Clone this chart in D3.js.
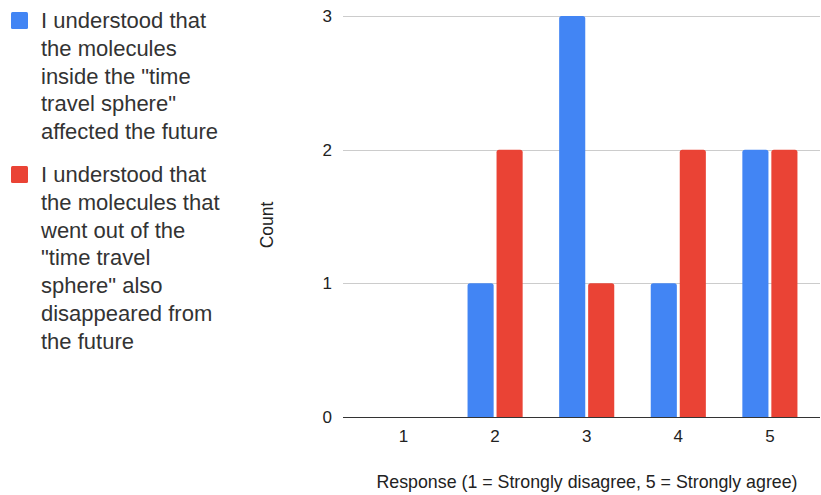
<!DOCTYPE html>
<html><head><meta charset="utf-8">
<script src="https://cdn.jsdelivr.net/npm/d3@7"></script>
<style>html,body{margin:0;padding:0;background:#fff;}svg{display:block;}</style>
</head><body>
<svg id="c" width="821" height="495"></svg>
<script>
const categories = ["1","2","3","4","5"];
const seriesNames = [
  "I understood that the molecules inside the \"time travel sphere\" affected the future",
  "I understood that the molecules that went out of the \"time travel sphere\" also disappeared from the future"
];
const legendLines = [
  ["I understood that","the molecules","inside the \"time","travel sphere\"","affected the future"],
  ["I understood that","the molecules that","went out of the","\"time travel","sphere\" also","disappeared from","the future"]
];
const series1 = [0,1,3,1,2];
const series2 = [0,2,1,2,2];
const yTicks = [0,1,2,3];
const colors = ["#4285F4","#EA4335"];
const xTitle = "Response (1 = Strongly disagree, 5 = Strongly agree)";
const yTitle = "Count";

const svg = d3.select("#c");
const font = "'Liberation Sans', Arial, sans-serif";
const plotL = 343, plotR = 820;
const y = d3.scaleLinear().domain([0,3]).range([417,16]);
const x0 = d3.scaleBand().domain(categories).range([357.7,815.7]).padding(0);
const sIdx = ["s0","s1"];
const x1 = d3.scaleBand().domain(sIdx).range([-29,29]).paddingInner(0.1).paddingOuter(0.05);

// gridlines
svg.append("g").selectAll("line").data(yTicks.filter(d=>d>0)).join("line")
  .attr("x1",plotL).attr("x2",plotR)
  .attr("y1",d=>Math.round(y(d))+0.5).attr("y2",d=>Math.round(y(d))+0.5)
  .attr("stroke","#cccccc").attr("stroke-width",1);

// y tick labels
svg.append("g").selectAll("text").data(yTicks).join("text")
  .attr("x",332).attr("y",d=>y(d)+6)
  .attr("text-anchor","end").attr("font-family",font).attr("font-size",17).attr("fill","#222")
  .text(d=>d);

// bars
const data = [series1, series2];
function barPath(x, w, y0, y1, r){
  const h = y0 - y1;
  r = Math.min(r, h/2, w/2);
  return `M${x},${y0}V${y1+r}Q${x},${y1} ${x+r},${y1}H${x+w-r}Q${x+w},${y1} ${x+w},${y1+r}V${y0}Z`;
}
data.forEach((vals,si)=>{
  svg.append("g").selectAll("path").data(vals.map((v,i)=>({v,c:categories[i]})).filter(d=>d.v>0)).join("path")
    .attr("d",d=>{
      const cx = x0(d.c)+x0.bandwidth()/2;
      return barPath(cx + x1(sIdx[si]), x1.bandwidth(), y(0), y(d.v), 2.5);
    })
    .attr("fill",colors[si]);
});

// baseline
svg.append("line").attr("x1",plotL).attr("x2",plotR).attr("y1",Math.round(y(0))+0.5).attr("y2",Math.round(y(0))+0.5)
  .attr("stroke","#333").attr("stroke-width",1);

// x tick labels
svg.append("g").selectAll("text").data(categories).join("text")
  .attr("x",d=>x0(d)+x0.bandwidth()/2).attr("y",442)
  .attr("text-anchor","middle").attr("font-family",font).attr("font-size",17).attr("fill","#222")
  .text(d=>d);

// axis titles
svg.append("text").attr("x",587).attr("y",488).attr("text-anchor","middle")
  .attr("font-family",font).attr("font-size",17.8).attr("fill","#222").text(xTitle);
svg.append("text").attr("transform","translate(273,225) rotate(-90)").attr("text-anchor","middle")
  .attr("font-family",font).attr("font-size",17.5).attr("fill","#222").text(yTitle);

// legend
const legendTop = [28, 182];
legendLines.forEach((lines,si)=>{
  const g = svg.append("g");
  g.append("rect").attr("x",11).attr("y",legendTop[si]-16).attr("width",17).attr("height",17)
    .attr("rx",1.5).attr("fill",colors[si]);
  g.append("title").text(seriesNames[si]);
  g.selectAll("text").data(lines).join("text")
    .attr("x",41).attr("y",(d,i)=>legendTop[si]+i*27.8)
    .attr("font-family",font).attr("font-size",22).attr("fill","#333")
    .text(d=>d);
});
</script>
</body></html>
